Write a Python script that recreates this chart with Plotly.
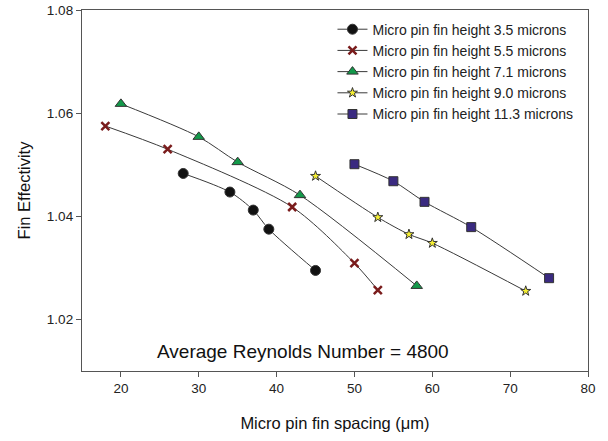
import plotly.graph_objects as go

# Fin effectivity vs. micro pin fin spacing for five pin fin heights
spacing_35 = [28, 34, 37, 39, 45]
eff_35 = [1.0483, 1.0447, 1.0412, 1.0375, 1.0295]

spacing_55 = [18, 26, 42, 50, 53]
eff_55 = [1.0575, 1.0530, 1.0418, 1.0309, 1.0257]

spacing_71 = [20, 30, 35, 43, 58]
eff_71 = [1.0618, 1.0554, 1.0505, 1.0441, 1.0265]

spacing_90 = [45, 53, 57, 60, 72]
eff_90 = [1.0478, 1.0398, 1.0365, 1.0348, 1.0255]

spacing_113 = [50, 55, 59, 65, 75]
eff_113 = [1.0501, 1.0468, 1.0428, 1.0379, 1.0280]

x_ticks = [20, 30, 40, 50, 60, 70, 80]
y_ticks = [1.02, 1.04, 1.06, 1.08]

series = [
    ("Micro pin fin height 3.5 microns", spacing_35, eff_35, "circle", "#111111", 10),
    ("Micro pin fin height 5.5 microns", spacing_55, eff_55, "x-thin-open", "#7a1c1c", 8),
    ("Micro pin fin height 7.1 microns", spacing_71, eff_71, "triangle-up", "#13994a", 10),
    ("Micro pin fin height 9.0 microns", spacing_90, eff_90, "star", "#f6f032", 7.5),
    ("Micro pin fin height 11.3 microns", spacing_113, eff_113, "square", "#3a2a80", 9),
]

FONT = "Liberation Sans, Arial, sans-serif"

fig = go.Figure()
for name, xs, ys, sym, col, sz in series:
    if sym == "x-thin-open":
        marker = dict(symbol=sym, size=sz, color=col, line=dict(color=col, width=2.5))
    else:
        marker = dict(symbol=sym, size=sz, color=col, line=dict(color="#333333", width=1))
    fig.add_trace(go.Scatter(
        x=xs, y=ys, name=name, mode="lines+markers",
        line=dict(color="#3a3a3a", width=1, shape="spline", smoothing=0.8),
        marker=marker,
    ))

fig.add_annotation(
    x=0.437, y=0.053, xref="paper", yref="paper", xanchor="center", yanchor="middle",
    text="Average Reynolds Number = 4800", showarrow=False,
    font=dict(size=19, color="#111111", family=FONT),
)

axis_common = dict(
    showgrid=False, zeroline=False, showline=True, linecolor="#555555", linewidth=1.3,
    mirror=True, ticks="outside", ticklen=5, tickcolor="#555555",
    tickfont=dict(size=13.5, color="#222222"), automargin=False,
)

fig.update_xaxes(
    range=[15, 80], tickvals=x_ticks, ticktext=[str(v) for v in x_ticks],
    title=dict(text="Micro pin fin spacing (μm)", font=dict(size=16.5, color="#111111"), standoff=22),
    **axis_common,
)
fig.update_yaxes(
    range=[1.01, 1.08], tickvals=y_ticks, ticktext=[f"{v:.2f}" for v in y_ticks],
    title=dict(text="Fin Effectivity", font=dict(size=16.5, color="#111111"), standoff=12),
    **axis_common,
)

fig.update_layout(
    width=608, height=441,
    margin=dict(l=82, r=20, t=10, b=70),
    paper_bgcolor="white", plot_bgcolor="white",
    font=dict(family=FONT, color="#222222"),
    showlegend=True,
    legend=dict(
        x=0.495, y=0.99, xanchor="left", yanchor="top",
        bgcolor="rgba(0,0,0,0)", font=dict(size=14, color="#222222"),
        itemwidth=30, tracegroupgap=0,
    ),
)

fig.write_html("out.html")
